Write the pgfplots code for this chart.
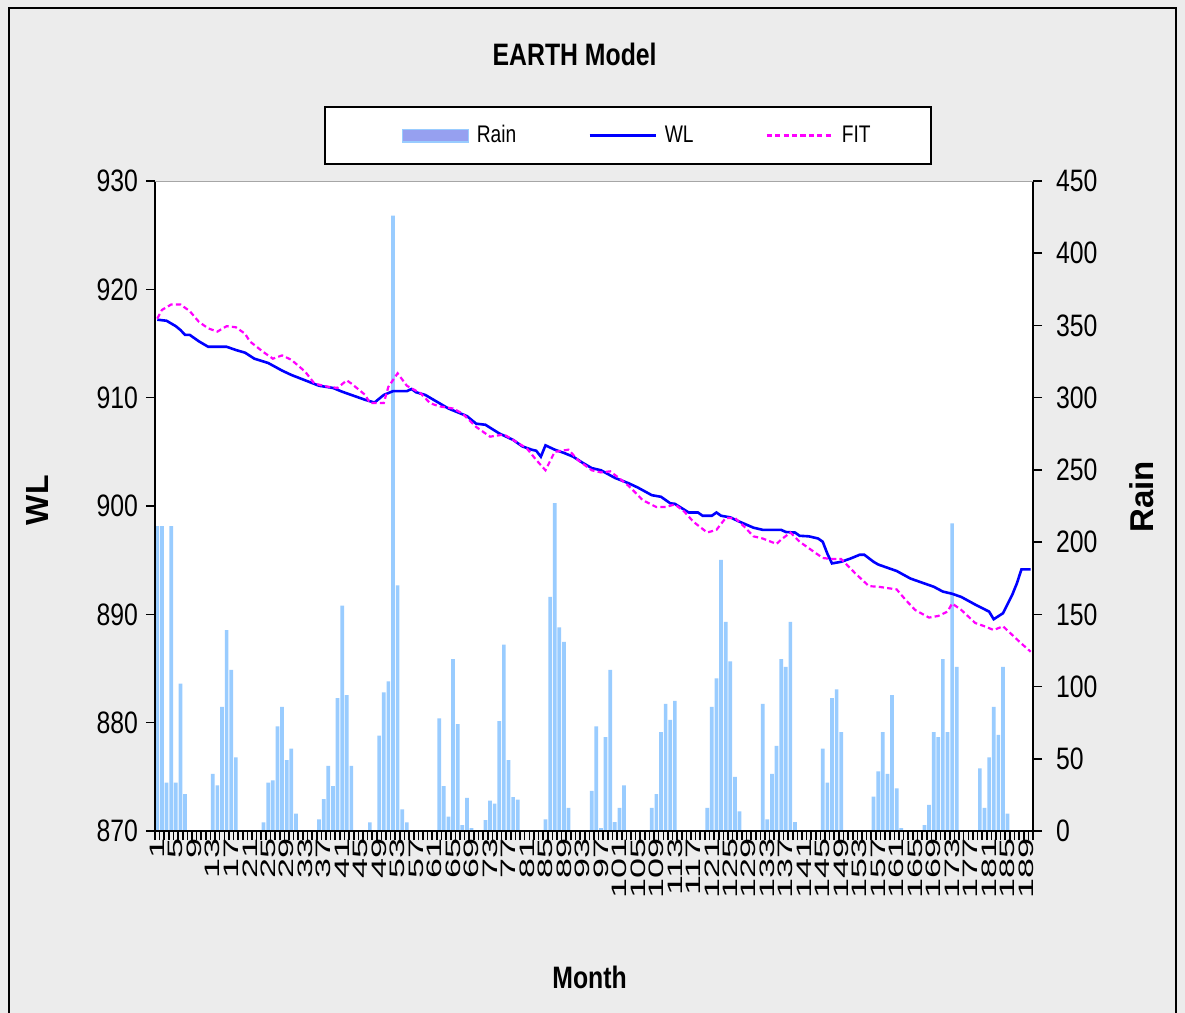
\documentclass[border=0pt]{standalone}
\usepackage{fontspec}
\setmainfont{Liberation Sans}[FakeStretch=0.8]
\newfontfamily\plainsans{Liberation Sans}
\usepackage{graphicx}
\usepackage{pgfplots}
\usepackage{pgfplotstable}
\pgfplotsset{compat=1.18}

\definecolor{rainbar}{RGB}{153,204,255}
\definecolor{rainkey}{RGB}{150,160,240}
\definecolor{wlblue}{RGB}{0,0,255}
\definecolor{fitmag}{RGB}{255,0,255}
\definecolor{bggray}{RGB}{236,236,236}

\newcommand{\tickfont}{\fontsize{15.5bp}{18bp}\selectfont}
\newcommand{\labfont}{\bfseries\fontsize{15.5bp}{18bp}\selectfont}

% monthly rainfall (months with no rain left out)
\pgfplotstableread{
m rain
1 211
2 211
3 33.5
4 211
5 33.5
6 102
7 25.6
13 39.5
14 31.6
15 86
16 139
17 111.5
18 51
24 6
25 33.5
26 35
27 72.5
28 86
29 49
30 57
31 12
36 8
37 22
38 45
39 31
40 92
41 156
42 94
43 45
47 6
49 66
50 96
51 103.5
52 426
53 170
54 15
55 6
62 78
63 31
64 10
65 119
66 74
67 4
68 23
69 2
72 7.6
73 21
74 19
75 76
76 129
77 49
78 23.5
79 21.7
85 8
86 162
87 227
88 141
89 131
90 16
95 27.7
96 72.5
97 2
98 65
99 111.5
100 6.2
101 16
102 31.6
108 16
109 25.6
110 68.5
111 88
112 77
113 90
120 16
121 86
122 105.7
123 187.7
124 144.7
125 117.5
126 37.4
127 13.6
132 88
133 8
134 39.5
135 59
136 119
137 113.6
138 144.7
139 6.2
145 57
146 33.5
147 92
148 98
149 68.5
156 23.8
157 41.3
158 68.5
159 39.5
160 94
161 29.5
162 2
167 4
168 18
169 68.5
170 65
171 119
172 68.5
173 213
174 113.6
179 43.4
180 16
181 51
182 86
183 66.5
184 113.6
185 12
}\raintable

\pgfplotstableread{
m wl
1 917.2
3 917.1
5 916.6
6 916.25
7 915.8
8 915.8
10 915.2
12 914.7
16 914.7
18 914.4
20 914.15
22 913.6
25 913.2
28 912.5
30 912.1
33 911.6
36 911.1
39 910.9
41 910.55
43 910.25
46 909.8
48 909.55
50 910.25
52 910.6
55 910.6
56 910.8
57 910.5
59 910.25
62 909.5
64 909.0
68 908.3
70 907.6
72 907.5
75 906.7
78 906.1
80 905.5
82 905.2
83 905.1
84 904.55
85 905.6
87 905.2
89 904.9
91 904.55
93 904.0
95 903.5
97 903.3
100 902.6
103 902.1
105 901.7
108 901.0
110 900.85
112 900.25
113 900.2
116 899.4
118 899.4
119 899.1
121 899.1
122 899.4
123 899.1
125 898.95
127 898.55
130 898.0
132 897.8
136 897.8
137 897.6
139 897.55
140 897.25
142 897.2
144 897.0
145 896.7
146 895.6
147 894.7
149 894.85
151 895.15
153 895.5
154 895.5
156 894.85
157 894.6
160 894.15
161 894.0
164 893.3
167 892.85
169 892.55
171 892.1
173 891.9
175 891.6
178 890.9
181 890.25
182 889.55
184 890.1
186 891.8
187 892.85
188 894.15
190 894.15
}\wltable

\pgfplotstableread{
m fit
1 917.3
2 918.1
4 918.6
6 918.6
8 918.0
10 917.0
12 916.4
14 916.1
16 916.6
18 916.5
20 915.9
21 915.2
24 914.2
26 913.6
28 913.9
30 913.5
33 912.4
35 911.3
38 911.0
40 910.9
42 911.6
43 911.3
46 910.25
47 909.5
50 909.5
51 911.0
53 912.25
55 911.1
58 910.4
60 909.5
62 909.2
65 909.0
67 908.55
70 907.3
73 906.4
76 906.6
78 906.1
81 905.3
83 904.25
85 903.3
87 905.0
90 905.2
92 904.25
95 903.3
97 903.1
99 903.2
101 902.55
103 901.85
105 901.0
106 900.55
109 899.9
111 899.9
113 900.15
115 899.5
117 898.55
120 897.55
122 897.8
124 898.9
126 898.9
128 898.1
130 897.2
132 897.0
135 896.5
136 896.9
138 897.55
140 896.7
143 895.8
145 895.2
147 895.1
149 895.1
152 893.8
155 892.6
157 892.55
161 892.3
163 891.3
165 890.4
168 889.7
170 889.85
172 890.25
173 891.0
175 890.4
178 889.2
180 888.9
182 888.55
184 888.9
186 888.1
188 887.3
190 886.55
}\fittable

\begin{document}
\begin{tikzpicture}
% grey chart area and frame
\fill[bggray] (-77.5bp,-91bp) rectangle (515bp,415.5bp);
\draw[black, line width=1.2bp] (-73bp,-91bp) -- (-73bp,411.5bp) -- (510.5bp,411.5bp) -- (510.5bp,-91bp);

\pgfplotsset{
  every axis/.append style={
    at={(0,0)}, anchor=south west,
    width=439bp, height=325bp, scale only axis,
    xmin=0.5, xmax=190.5,
    /pgf/number format/assume math mode=true,
    tick align=outside,
    major tick length=0pt, minor tick length=4.5bp,
    tick style={black, line width=0.8bp},
    axis line style={black, line width=1bp},
    tick label style={font=\tickfont},
  }
}

% secondary axis: rain bars
\begin{axis}[
  axis x line=none,
  axis y line*=right,
  ymin=0, ymax=450,
  ytick={0,50,...,450},
  minor ytick={0,50,...,450},
  yticklabel style={xshift=8bp},
  axis background/.style={fill=white},
  ylabel={\plainsans\bfseries\fontsize{16.5bp}{18bp}\selectfont Rain},
  ylabel style={at={(axis description cs:1.124,0.514)}, anchor=center},
]
\addplot[ybar, bar width=0.8, fill=rainbar, draw=none] table[x=m, y=rain] {\raintable};
\end{axis}

% primary axis: water level and fit
\begin{axis}[
  axis x line*=bottom,
  axis y line*=left,
  ymin=870, ymax=930,
  ytick={870,880,...,930},
  minor ytick={870,880,...,930},
  yticklabel style={xshift=-5bp},
  xtick={1,5,...,189},
  minor xtick={0.5,1.5,...,190.5},
  xticklabel={\scalebox{1}[0.58]{\pgfmathprintnumber{\tick}}},
  xticklabel style={font=\plainsans\fontsize{18bp}{19bp}\selectfont, rotate=90, anchor=east},
  no marks,
  title={\bfseries EARTH Model},
  title style={at={(axis description cs:0.478,1.177)}, anchor=center, font=\labfont},
  xlabel={\bfseries Month},
  xlabel style={at={(axis description cs:0.495,-0.2246)}, anchor=center, font=\labfont},
  ylabel={\plainsans\bfseries\fontsize{16bp}{18bp}\selectfont WL},
  ylabel style={at={(axis description cs:-0.1333,0.509)}, anchor=center},
  legend columns=3,
  legend image code/.code={\draw[#1] (0bp,0bp) -- (33bp,0bp);},
  legend style={at={(axis description cs:0.5387,1.07)}, anchor=center,
    draw=black, line width=0.9bp, fill=white,
    font=\fontsize{12bp}{14bp}\selectfont,
    inner xsep=28bp, inner ysep=7bp,
    /tikz/every odd column/.append style={column sep=2bp},
    /tikz/every even column/.append style={column sep=34bp}},
]
\addlegendimage{legend image code/.code={\path (-10bp,0bp); \draw[fill=rainkey, draw=rainbar, line width=0.6bp] (0bp,-3.2bp) rectangle (33bp,3.2bp);}}
\addplot[wlblue, line width=1.3bp] table[x=m, y=wl] {\wltable};
\addplot[fitmag, line width=1.1bp, dash pattern=on 2.6bp off 1.6bp] table[x=m, y=fit] {\fittable};
\legend{Rain, WL, FIT}
\draw[gray!70, line width=0.6bp] (rel axis cs:0,1) -- (rel axis cs:1,1);
\end{axis}

\pgfresetboundingbox
\path[use as bounding box] (-77.5bp,-91bp) rectangle (515bp,415.5bp);
\end{tikzpicture}
\end{document}
